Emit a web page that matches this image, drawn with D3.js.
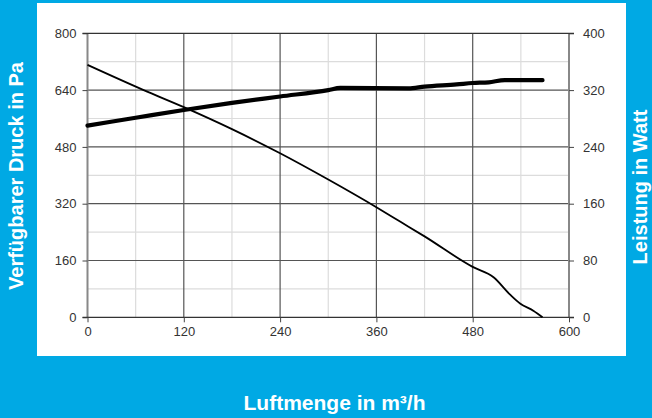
<!DOCTYPE html>
<html><head><meta charset="utf-8">
<script src="https://cdn.jsdelivr.net/npm/d3@7"></script>
<style>body{margin:0;background:#00A9E4;}svg{display:block;}</style>
</head><body>
<svg id="c" width="652" height="418"></svg>
<script>
const xTicks = [0,120,240,360,480,600];
const yLeftTicks = [0,160,320,480,640,800];
const yRightTicks = [0,80,160,240,320,400];
const pressureX = [0,70,120,180,240,300,360,390,420,480,506,527,539,556,567];
const pressureY = [711,640,592,530,462,388,310,269,228,142,113,63,39,18,0];
const powerX = [0,60,120,180,240,300,315,400,420,460,480,500,520,567];
const powerY = [270,281,292,302,311,320,323,322.5,325,328,330,331,334,334];

const svg = d3.select('#c');
svg.append('rect').attr('x',37).attr('y',3).attr('width',589).attr('height',353).attr('fill','#fff');

const x = d3.scaleLinear().domain([0,600]).range([87.5,569]);
const yL = d3.scaleLinear().domain([0,800]).range([317.3,33.3]);
const yR = d3.scaleLinear().domain([0,400]).range([317.3,33.3]);

const g = svg.append('g');
d3.range(60,600,120).forEach(v=>g.append('line').attr('x1',x(v)).attr('x2',x(v)).attr('y1',yL(0)).attr('y2',yL(800)).attr('stroke','#dcdcdc').attr('stroke-width',1.2));
d3.range(80,800,160).forEach(v=>g.append('line').attr('x1',x(0)).attr('x2',x(600)).attr('y1',yL(v)).attr('y2',yL(v)).attr('stroke','#dcdcdc').attr('stroke-width',1.2));
xTicks.slice(1,-1).forEach(v=>g.append('line').attr('x1',x(v)).attr('x2',x(v)).attr('y1',yL(0)).attr('y2',yL(800)).attr('stroke','#555').attr('stroke-width',1.2));
yLeftTicks.slice(1,-1).forEach(v=>g.append('line').attr('x1',x(0)).attr('x2',x(600)).attr('y1',yL(v)).attr('y2',yL(v)).attr('stroke','#555').attr('stroke-width',1.2));

const font = '"Liberation Sans", Arial, sans-serif';
const axL = d3.axisLeft(yL).tickValues(yLeftTicks).tickSize(5).tickPadding(6);
const axR = d3.axisRight(yR).tickValues(yRightTicks).tickSize(5).tickPadding(9);
const axB = d3.axisBottom(x).tickValues(xTicks).tickSize(5).tickPadding(4);
const gl = svg.append('g').attr('transform',`translate(${x(0)},0)`).call(axL);
const gr = svg.append('g').attr('transform',`translate(${x(600)},0)`).call(axR);
const gb = svg.append('g').attr('transform',`translate(0,${yL(0)})`).call(axB);
[gl,gr,gb].forEach(a=>{
  a.selectAll('text').attr('font-family',font).attr('font-size',13).attr('fill','#333');
  a.selectAll('.tick line').attr('stroke','#444');
});
gl.select('.domain').attr('stroke','#888').attr('stroke-width',2).attr('d',`M0,${yL(0)}V${yL(800)}`);
gr.select('.domain').attr('stroke','#888').attr('stroke-width',2).attr('d',`M0,${yL(0)}V${yL(800)}`);
gb.select('.domain').attr('stroke','#333').attr('stroke-width',1.3).attr('d',`M${x(0)-5},0H${x(600)+5}`);
gr.selectAll('text').attr('text-anchor','start');
svg.append('line').attr('x1',x(0)-5).attr('x2',x(600)+5).attr('y1',yL(800)).attr('y2',yL(800)).attr('stroke','#333').attr('stroke-width',1.3);

const pData = pressureX.map((v,i)=>[v,pressureY[i]]);
const wData = powerX.map((v,i)=>[v,powerY[i]]);
svg.append('path').attr('d',d3.line().x(d=>x(d[0])).y(d=>yL(d[1])).curve(d3.curveMonotoneX)(pData))
  .attr('fill','none').attr('stroke','#000').attr('stroke-width',1.8);
svg.append('path').attr('d',d3.line().x(d=>x(d[0])).y(d=>yR(d[1])).curve(d3.curveMonotoneX)(wData))
  .attr('fill','none').attr('stroke','#000').attr('stroke-width',4.2).attr('stroke-linecap','round');

svg.append('text').attr('transform','translate(23,176) rotate(-90)').attr('text-anchor','middle')
  .attr('font-family',font).attr('font-size',20).attr('font-weight','bold').attr('fill','#fff').text('Verfügbarer Druck in Pa');
svg.append('text').attr('transform','translate(647,187) rotate(-90)').attr('text-anchor','middle')
  .attr('font-family',font).attr('font-size',20).attr('font-weight','bold').attr('fill','#fff').text('Leistung in Watt');
svg.append('text').attr('x',334.5).attr('y',410).attr('text-anchor','middle')
  .attr('font-family',font).attr('font-size',21).attr('font-weight','bold').attr('fill','#fff').text('Luftmenge in m³/h');
</script>
</body></html>
